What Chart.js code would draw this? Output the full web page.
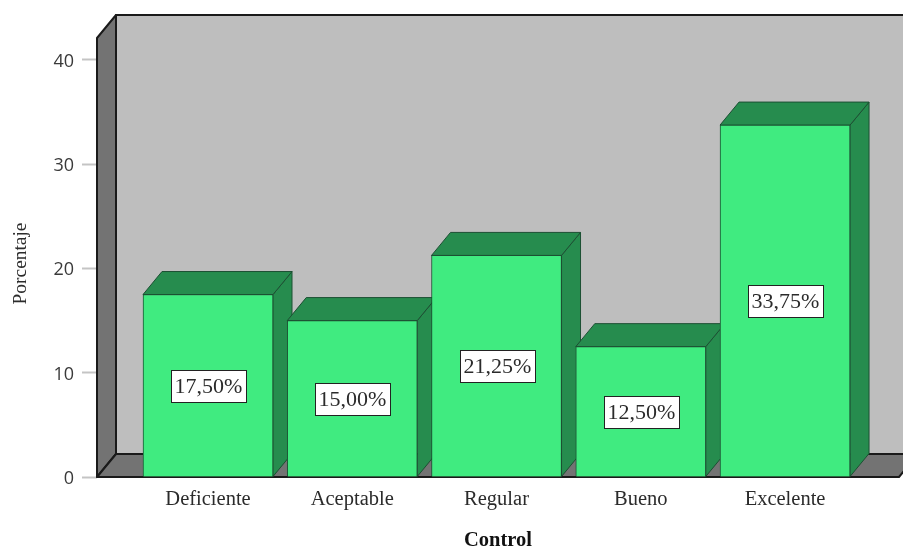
<!DOCTYPE html>
<html lang="es">
<head>
<meta charset="utf-8">
<title>Control</title>
<script src="https://cdn.jsdelivr.net/npm/chart.js@4"></script>
<style>
  html, body { margin: 0; padding: 0; background: #fff; }
  canvas { display: block; }
</style>
</head>
<body>
<canvas id="chart" width="903" height="547"></canvas>
<script>
// -------- DATOS --------
const categories = ["Deficiente", "Aceptable", "Regular", "Bueno", "Excelente"];
const values = [17.5, 15, 21.25, 12.5, 33.75];
const valueLabels = ["17,50%", "15,00%", "21,25%", "12,50%", "33,75%"];
const yTicks = [0, 10, 20, 30, 40];

// -------- ESTILO --------
const depthX = 19;
const depthY = 23;
const serif = "'Liberation Serif', serif";
const textColor = "#2b2b2b";
const lineColor = "#1a1a1a";
const wallColor = "#bebebe";
const sideColor = "#737373";
const barColor = "#40eb80";
const barDark = "#268c4e";
const barLine = "#1c5033";

function poly(ctx, pts, fill, stroke, width) {
  ctx.beginPath();
  pts.forEach((p, i) => i ? ctx.lineTo(p[0], p[1]) : ctx.moveTo(p[0], p[1]));
  ctx.closePath();
  ctx.fillStyle = fill;
  ctx.fill();
  ctx.strokeStyle = stroke;
  ctx.lineWidth = width;
  ctx.stroke();
}

// Paredes, suelo y caras laterales de las barras
const box3d = {
  id: "box3d",
  beforeDatasetsDraw(chart) {
    const { ctx, chartArea: a } = chart;
    ctx.save();
    ctx.lineJoin = "round";
    poly(ctx, [[a.left + depthX, a.top - depthY], [a.right + depthX, a.top - depthY],
      [a.right + depthX, a.bottom - depthY], [a.left + depthX, a.bottom - depthY]], wallColor, lineColor, 2);
    poly(ctx, [[a.left, a.top], [a.left + depthX, a.top - depthY],
      [a.left + depthX, a.bottom - depthY], [a.left, a.bottom]], sideColor, lineColor, 2);
    poly(ctx, [[a.left, a.bottom], [a.left + depthX, a.bottom - depthY],
      [a.right + depthX, a.bottom - depthY], [a.right, a.bottom]], sideColor, lineColor, 2);

    chart.getDatasetMeta(0).data.forEach(bar => {
      const l = bar.x - bar.width / 2;
      const r = bar.x + bar.width / 2;
      poly(ctx, [[r, bar.y], [r + depthX, bar.y - depthY],
        [r + depthX, bar.base - depthY], [r, bar.base]], barDark, barLine, 1);
      poly(ctx, [[l, bar.y], [l + depthX, bar.y - depthY],
        [r + depthX, bar.y - depthY], [r, bar.y]], barDark, barLine, 1);
    });
    ctx.restore();
  }
};

// Etiquetas con caja blanca, numeros y titulo del eje Y
const boxLabels = {
  id: "boxLabels",
  afterDatasetsDraw(chart) {
    const { ctx } = chart;
    ctx.save();
    ctx.font = "22px " + serif;
    ctx.textAlign = "center";
    ctx.textBaseline = "middle";
    chart.getDatasetMeta(0).data.forEach((bar, i) => {
      const cy = Math.round((bar.y + bar.base) / 2);
      const cx = Math.round(bar.x);
      ctx.fillStyle = "#ffffff";
      ctx.fillRect(cx - 37, cy - 16, 75, 32);
      ctx.strokeStyle = "#222222";
      ctx.lineWidth = 1;
      ctx.strokeRect(cx - 36.5, cy - 15.5, 75, 32);
      ctx.fillStyle = textColor;
      ctx.fillText(valueLabels[i], cx + 0.5, cy + 1);
    });

    const yScale = chart.scales.y;
    ctx.font = "18px 'Open Sans', sans-serif";
    ctx.textAlign = "right";
    ctx.textBaseline = "alphabetic";
    ctx.fillStyle = "#3a3a3a";
    yTicks.forEach(t => ctx.fillText(String(t), 74, yScale.getPixelForValue(t) + 7));

    ctx.translate(21, 263.5);
    ctx.rotate(-Math.PI / 2);
    ctx.textAlign = "center";
    ctx.textBaseline = "middle";
    ctx.font = "19.4px " + serif;
    ctx.fillStyle = textColor;
    ctx.fillText("Porcentaje", 0, 0);
    ctx.restore();
  }
};

// -------- GRAFICO --------
new Chart(document.getElementById("chart"), {
  type: "bar",
  data: {
    datasets: [{
      data: values.map((v, i) => ({ x: i + 1, y: v })),
      backgroundColor: barColor,
      borderColor: barLine,
      borderWidth: 1,
      barThickness: 130
    }]
  },
  plugins: [box3d, boxLabels],
  options: {
    responsive: false,
    animation: false,
    layout: { padding: { top: 38, right: 4 } },
    plugins: { legend: { display: false }, tooltip: { enabled: false } },
    scales: {
      x: {
        type: "linear",
        offset: false,
        min: 0.2305,
        max: 5.79,
        grid: { display: false, drawTicks: false, offset: false },
        border: { display: false },
        afterFit: s => { s.height = 70; },
        afterBuildTicks: s => { s.ticks = categories.map((c, i) => ({ value: i + 1 })); },
        ticks: {
          autoSkip: false,
          maxRotation: 0,
          padding: 10,
          color: textColor,
          font: { family: serif, size: 20.5 },
          callback: v => categories[v - 1]
        },
        title: {
          display: true,
          text: "Control",
          color: "#111111",
          font: { family: serif, size: 20.5, weight: "bold" },
          padding: { top: 0, bottom: -6 }
        }
      },
      y: {
        min: 0,
        max: 42.1,
        grid: { drawOnChartArea: false, tickLength: 15, tickColor: "#c4c4c4", tickWidth: 2 },
        border: { display: false },
        afterFit: s => { s.width = 97; },
        afterBuildTicks: s => { s.ticks = yTicks.map(v => ({ value: v })); },
        ticks: { display: false }
      }
    }
  }
});
</script>
</body>
</html>
